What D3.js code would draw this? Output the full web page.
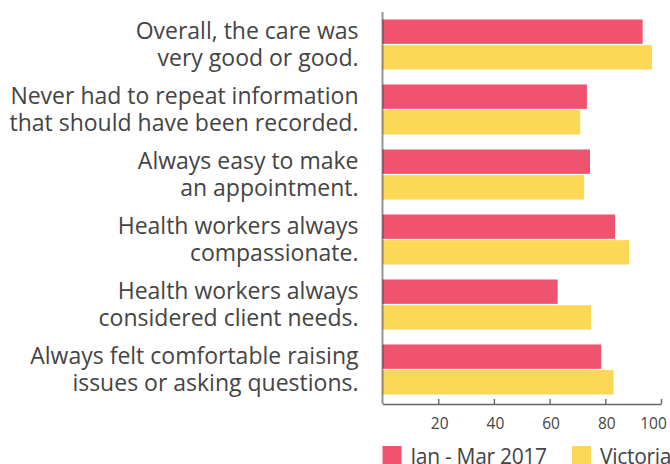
<!DOCTYPE html>
<html>
<head>
<meta charset="utf-8">
<script src="https://cdn.jsdelivr.net/npm/d3@7"></script>
<style>
  body { margin: 0; background: #fff; }
  svg text { font-family: "Open Sans", sans-serif; fill: #444; }
</style>
</head>
<body>
<div id="chart"></div>
<script>
// Survey statements (two lines each)
const categories = [
    ["Overall, the care was", "very good or good."],
    ["Never had to repeat information", "that should have been recorded."],
    ["Always easy to make", "an appointment."],
    ["Health workers always", "compassionate."],
    ["Health workers always", "considered client needs."],
    ["Always felt comfortable raising", "issues or asking questions."]
];
const seriesNames = ["Jan - Mar 2017", "Victoria"];
const janMar2017 = [93.4, 73.4, 74.5, 83.5, 62.9, 78.5];
const victoria = [96.8, 71.0, 72.4, 88.5, 74.9, 83.0];
const xTicks = [20, 40, 60, 80, 100];
const colors = ["#f0536e", "#fdd857"];

const W = 670, H = 464;
const margin = {top: 12, right: 9, bottom: 62, left: 382.5};

const svg = d3.select("#chart").append("svg")
    .attr("width", W)
    .attr("height", H);

const x = d3.scaleLinear()
    .domain([0, 100])
    .range([margin.left, W - margin.right]);

const y0 = d3.scaleBand()
    .domain(d3.range(categories.length))
    .range([margin.top, H - margin.bottom])
    .paddingInner(0.23)
    .paddingOuter(0.115);

const y1 = d3.scaleBand()
    .domain(d3.range(seriesNames.length))
    .range([0, y0.bandwidth()])
    .paddingInner(0.05);

const rows = categories.map((c, i) => ({i, values: [janMar2017[i], victoria[i]]}));

// bars
const groups = svg.append("g").selectAll("g")
    .data(rows)
    .enter().append("g")
    .attr("transform", d => `translate(0,${y0(d.i)})`);

groups.selectAll("rect")
    .data(d => d.values.map((v, s) => ({v, s})))
    .enter().append("rect")
    .attr("x", x(0))
    .attr("y", d => y1(d.s))
    .attr("width", d => x(d.v) - x(0))
    .attr("height", y1.bandwidth())
    .attr("fill", d => colors[d.s]);

// category labels
const labels = svg.append("g").selectAll("text")
    .data(categories)
    .enter().append("text")
    .attr("text-anchor", "end")
    .attr("x", margin.left - 24)
    .attr("y", (d, i) => y0(i) + y0.bandwidth() / 2)
    .style("font-size", "23px");

labels.selectAll("tspan")
    .data(d => d)
    .enter().append("tspan")
    .attr("x", margin.left - 24)
    .attr("dy", (d, j) => j === 0 ? "-0.22em" : "1.17em")
    .text(d => d);

// bottom axis
const xAxis = svg.append("g")
    .attr("transform", `translate(0,${H - margin.bottom + 2})`)
    .call(d3.axisBottom(x).tickValues(xTicks).tickSizeInner(-5).tickSizeOuter(0).tickPadding(14));

xAxis.select(".domain").attr("stroke", "#666").attr("stroke-width", 1.6);
xAxis.selectAll(".tick line").attr("stroke", "#666").attr("stroke-width", 1.4);
xAxis.selectAll(".tick text")
    .style("font-size", "15.5px")
    .style("font-family", "'Open Sans', sans-serif")
    .attr("fill", "#444")
    .attr("x", d => d === 100 ? -8 : 1);

// left axis line drawn over the bars
svg.append("line")
    .attr("x1", x(0)).attr("x2", x(0))
    .attr("y1", margin.top).attr("y2", H - margin.bottom + 2)
    .attr("stroke", "rgba(0,0,0,0.42)")
    .attr("stroke-width", 2);

// legend
const legendX = [x(0), 572];
const legend = svg.append("g").selectAll("g")
    .data(seriesNames)
    .enter().append("g")
    .attr("transform", (d, i) => `translate(${legendX[i]},446)`);

legend.append("rect")
    .attr("width", 19)
    .attr("height", 20)
    .attr("fill", (d, i) => colors[i]);

legend.append("text")
    .attr("x", 28)
    .attr("y", 17.5)
    .style("font-size", "21px")
    .style("letter-spacing", "-0.3px")
    .text(d => d);
</script>
</body>
</html>
